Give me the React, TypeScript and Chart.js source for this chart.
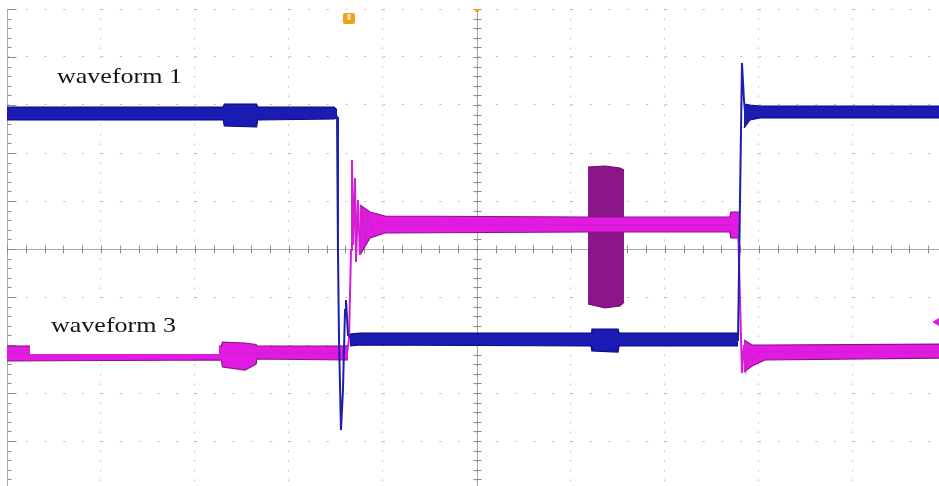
import React, { useEffect, useRef } from 'react';
import { Chart, registerables } from 'chart.js';

Chart.register(...registerables);

// Screen units: x in horizontal divisions (0 = left edge of screen), y in vertical divisions (0 = centre line)
const xGridTicks = [0, 1, 2, 3, 4, 5, 6, 7, 8, 9];
const yGridTicks = [-4, -3, -2, -1, 0, 1, 2, 3, 4, 5];

// waveform 1 (blue) - main trace
const w1X = [0, 3.489, 3.511, 3.521, 3.532, 3.553, 3.574, 3.596, 3.606, 3.628, 3.670, 7.777, 7.798, 7.819, 7.840, 7.862, 7.894, 7.957, 10];
const w1Y = [2.833, 2.833, 2.750, -0.021, -1.896, -3.771, -2.938, -1.271, -1.063, -1.792, -1.854, -1.896, 1.021, 3.875, 3.104, 2.646, 2.896, 2.854, 2.854];

// waveform 1 noise envelope (upper / lower), three flat sections
const w1BandAX = [0, 2.300, 2.312, 2.655, 2.667, 3.479, 3.511];
const w1BandAHi = [2.958, 2.958, 3.021, 3.021, 2.958, 2.958, 2.896];
const w1BandALo = [2.688, 2.688, 2.563, 2.542, 2.688, 2.708, 2.729];

const w1BandBX = [3.649, 3.755, 6.213, 6.223, 6.500, 6.511, 7.777];
const w1BandBHi = [-1.771, -1.750, -1.750, -1.667, -1.667, -1.750, -1.750];
const w1BandBLo = [-2.021, -2.000, -2.021, -2.125, -2.146, -2.021, -2.021];

const w1BandCX = [7.840, 7.904, 8.011, 10];
const w1BandCHi = [3.021, 3.000, 2.979, 2.979];
const w1BandCLo = [2.521, 2.688, 2.729, 2.729];

// waveform 3 (magenta) - main trace
const w3X = [0, 3.617, 3.638, 3.660, 3.670, 3.681, 3.702, 3.713, 3.734, 3.755, 3.777, 3.809, 3.840, 3.883, 3.947, 4.021, 7.777, 7.798, 7.819, 7.840, 7.862, 7.894, 7.936, 7.989, 10];
const w3Y = [-2.167, -2.167, -1.896, -0.021, 1.854, 0.083, 1.479, -0.271, 1.021, -0.125, 0.813, 0.188, 0.708, 0.396, 0.563, 0.5, 0.5, -1.063, -2.583, -2.0, -2.479, -2.104, -2.354, -2.146, -2.146];

// waveform 3 noise envelope
const w3BandAX = [0, 2.280, 2.292, 2.532, 2.650, 2.660, 3.628];
const w3BandAHi = [-2.021, -2.021, -1.938, -1.958, -1.990, -2.021, -2.021];
const w3BandALo = [-2.333, -2.313, -2.458, -2.521, -2.400, -2.292, -2.313];

const w3BandBX = [3.755, 3.862, 4.021, 6.160, 7.690, 7.700, 7.787];
const w3BandBHi = [0.917, 0.771, 0.688, 0.667, 0.667, 0.771, 0.771];
const w3BandBLo = [-0.125, 0.229, 0.333, 0.354, 0.354, 0.229, 0.229];

const w3BandCX = [7.840, 7.926, 8.064, 10];
const w3BandCHi = [-1.896, -2.0, -2.0, -1.979];
const w3BandCLo = [-2.563, -2.438, -2.313, -2.271];

// burst on waveform 3
const burstX = [6.181, 6.362, 6.521, 6.564];
const burstHi = [1.708, 1.729, 1.688, 1.646];
const burstLo = [-1.146, -1.229, -1.188, -1.104];

// channel 3 reference marker (right edge) and trigger position
const ch3MarkerX = [9.894];
const ch3MarkerY = [-1.521];
const triggerX = 3.638;

const labels = ['waveform 1', 'waveform 3'];

const BLUE_FILL = '#1a1ab4';
const BLUE_EDGE = '#0a0a7c';
const BLUE_LINE = '#1e1eaa';
const MAG_FILL = '#e21ae2';
const MAG_EDGE = '#861486';
const MAG_LINE = '#d41ed4';
const BURST_FILL = '#8a168a';

const pts = (xs: number[], ys: number[]) => xs.map((x, i) => ({ x, y: ys[i] }));

const band = (xs: number[], hi: number[], lo: number[], fillColor: string, edge: string, order: number) => [
  { data: pts(xs, hi), borderColor: edge, borderWidth: 1.2, pointRadius: 0, fill: false, order },
  { data: pts(xs, lo), borderColor: edge, borderWidth: 1.2, pointRadius: 0, backgroundColor: fillColor, fill: '-1', order },
];

const scopeDecor = {
  id: 'scopeDecor',
  beforeDatasetsDraw(chart: any) {
    const { ctx, chartArea, scales } = chart;
    const xs = scales.x;
    const ys = scales.y;
    const cx = Math.round(xs.getPixelForValue(5)) + 0.5;
    const cy = Math.round(ys.getPixelForValue(0)) + 0.5;
    const lx = Math.round(xs.getPixelForValue(0)) + 0.5;
    ctx.save();
    // white patch behind label 1
    ctx.fillStyle = '#ffffff';
    ctx.fillRect(45, 60, 145, 37);
    ctx.strokeStyle = '#a9a9a9';
    ctx.lineWidth = 1;
    ctx.beginPath();
    ctx.moveTo(cx, chartArea.top);
    ctx.lineTo(cx, chartArea.bottom);
    ctx.moveTo(chartArea.left, cy);
    ctx.lineTo(chartArea.right, cy);
    ctx.moveTo(lx, chartArea.top);
    ctx.lineTo(lx, chartArea.bottom);
    ctx.stroke();
    ctx.strokeStyle = '#8c8c8c';
    ctx.beginPath();
    for (let i = 0; i <= 50; i++) {
      const px = Math.round(xs.getPixelForValue(i / 5)) + 0.5;
      if (px > chartArea.right) break;
      ctx.moveTo(px, cy - 4);
      ctx.lineTo(px, cy + 4);
    }
    for (let i = -25; i <= 25; i++) {
      const py = Math.round(ys.getPixelForValue(i / 5)) + 0.5;
      if (py > chartArea.bottom || py < chartArea.top) continue;
      ctx.moveTo(cx - 4, py);
      ctx.lineTo(cx + 4, py);
      const len = i % 5 === 0 ? 9 : 4;
      ctx.moveTo(lx, py);
      ctx.lineTo(lx + len, py);
    }
    ctx.stroke();
    ctx.restore();
  },
  afterDatasetsDraw(chart: any) {
    const { ctx, chartArea, scales } = chart;
    const xs = scales.x;
    ctx.save();
    // white label box for waveform 3
    ctx.fillStyle = '#ffffff';
    ctx.fillRect(30, 300, 189, 54);
    // labels
    ctx.fillStyle = '#141414';
    ctx.font = '22px "Liberation Serif", "Times New Roman", serif';
    ctx.textBaseline = 'alphabetic';
    const drawLabel = (t: string, x: number, y: number, w: number) => {
      const natural = ctx.measureText(t).width;
      ctx.save();
      ctx.translate(x, y);
      ctx.scale(w / natural, 1);
      ctx.fillText(t, 0, 0);
      ctx.restore();
    };
    drawLabel(labels[0], 57, 83, 125);
    drawLabel(labels[1], 51, 332, 125);
    // trigger position marker
    const tx = xs.getPixelForValue(triggerX);
    ctx.fillStyle = '#f0a21e';
    ctx.beginPath();
    ctx.roundRect(tx - 6, chartArea.top + 4, 12, 11, 2);
    ctx.fill();
    ctx.fillStyle = '#fbe3b0';
    ctx.fillRect(tx - 1.5, chartArea.top + 5, 3, 6);
    // trigger level tick on centre line
    const cx = xs.getPixelForValue(5);
    ctx.fillStyle = '#f0a21e';
    ctx.fillRect(cx - 2, chartArea.top, 4, 3);
    ctx.restore();
  },
};

export default function App() {
  const ref = useRef<HTMLCanvasElement | null>(null);

  useEffect(() => {
    if (!ref.current) return;
    const datasets: any[] = [
      { data: pts(ch3MarkerX, ch3MarkerY), showLine: false, pointStyle: 'triangle', rotation: 270, pointRadius: 4, pointBackgroundColor: MAG_LINE, pointBorderColor: MAG_LINE, order: 0 },
      { data: pts(w1X, w1Y), borderColor: BLUE_LINE, borderWidth: 2, pointRadius: 0, fill: false, order: 1 },
      ...band(w1BandAX, w1BandAHi, w1BandALo, BLUE_FILL, BLUE_EDGE, 2),
      ...band(w1BandBX, w1BandBHi, w1BandBLo, BLUE_FILL, BLUE_EDGE, 2),
      ...band(w1BandCX, w1BandCHi, w1BandCLo, BLUE_FILL, BLUE_EDGE, 2),
      { data: pts(w3X, w3Y), borderColor: MAG_LINE, borderWidth: 2, pointRadius: 0, fill: false, order: 3 },
      ...band(w3BandAX, w3BandAHi, w3BandALo, MAG_FILL, MAG_EDGE, 4),
      ...band(w3BandBX, w3BandBHi, w3BandBLo, MAG_FILL, MAG_EDGE, 4),
      ...band(w3BandCX, w3BandCHi, w3BandCLo, MAG_FILL, MAG_EDGE, 4),
      ...band(burstX, burstHi, burstLo, BURST_FILL, '#6e0c6e', 5),
    ];
    const chart = new Chart(ref.current, {
      type: 'line',
      data: { datasets },
      options: {
        animation: false,
        responsive: false,
        devicePixelRatio: 1,
        parsing: false as any,
        layout: { autoPadding: false, padding: { left: 7, top: 9, right: 0, bottom: 0 } },
        plugins: { legend: { display: false }, tooltip: { enabled: false } },
        elements: { line: { tension: 0 } },
        scales: {
          x: {
            type: 'linear',
            min: 0,
            max: 9.915,
            afterBuildTicks: (axis: any) => { axis.ticks = xGridTicks.map((v) => ({ value: v })); },
            ticks: { display: false },
            grid: { color: '#b9b9b9', lineWidth: 1, drawTicks: false },
            border: { display: false, dash: [1.5, 8.1] },
          },
          y: {
            type: 'linear',
            min: -4.9375,
            max: 5,
            afterBuildTicks: (axis: any) => { axis.ticks = yGridTicks.map((v) => ({ value: v })); },
            ticks: { display: false },
            grid: { color: '#b9b9b9', lineWidth: 1, drawTicks: false },
            border: { display: false, dash: [2, 16.8] },
          },
        },
      },
      plugins: [scopeDecor],
    });
    return () => chart.destroy();
  }, []);

  return (
    <div style={{ position: 'fixed', left: 0, top: 0, width: 939, height: 486, background: '#ffffff' }}>
      <canvas ref={ref} width={939} height={486} style={{ display: 'block' }} />
    </div>
  );
}
